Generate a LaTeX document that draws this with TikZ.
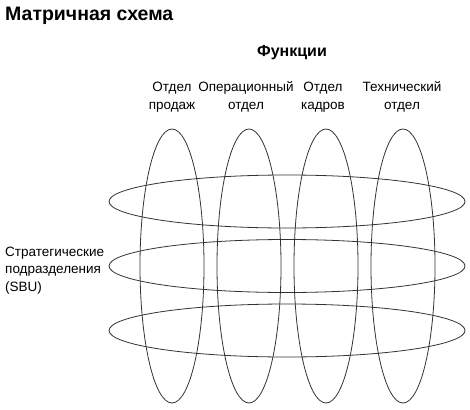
\documentclass[tikz,border=0pt]{standalone}
\usepackage{fontspec}
\setmainfont{Liberation Sans}

\begin{document}
\begin{tikzpicture}[x=1pt,y=-1pt,
    oval/.style={draw=black!80,line width=0.8pt},
    dept/.style={font=\fontsize{13.5}{18}\selectfont,align=center,inner sep=0pt,anchor=base}]
          \useasboundingbox (0,0) rectangle (470,409);

          \node[anchor=base west,inner sep=0pt,font=\fontsize{19.5}{22}\selectfont\bfseries]
                     (title) at (5,21) {Матричная схема};
          \node[anchor=base,inner sep=0pt,font=\fontsize{16}{19}\selectfont\bfseries]
                     (func) at (292,57) {Функции};

          \coordinate (f1) at (172,266);
          \coordinate (f2) at (249,266);
          \coordinate (f3) at (326,266);
          \coordinate (f4) at (403,266);

          % base of a two-line node is its last line
          \node[dept] (sales) at (172,110) {Отдел\\продаж};
          \node[dept] (oper) at (246,110) {Операционный\\отдел};
          \node[dept] (hr) at (323,110) {Отдел\\кадров};
          \node[dept] (tech) at (402,110) {Технический\\отдел};

          \node[anchor=base west,inner sep=0pt,align=left,font=\fontsize{13.5}{17.5}\selectfont]
                     (sbu) at (5,291) {Стратегические\\подразделения\\(SBU)};

          \draw[oval] (f1) ellipse [x radius=32,y radius=137];
          \draw[oval] (f2) ellipse [x radius=32,y radius=137];
          \draw[oval] (f3) ellipse [x radius=32,y radius=137];
          \draw[oval] (f4) ellipse [x radius=32,y radius=137];

          \coordinate (s1) at (287,201.5);
          \coordinate (s2) at (287,266);
          \coordinate (s3) at (287,330.5);

          \draw[oval] (s1) ellipse [x radius=178,y radius=26.5];
          \draw[oval] (s2) ellipse [x radius=178,y radius=26.5];
          \draw[oval] (s3) ellipse [x radius=178,y radius=26.5];
        \end{tikzpicture}
\end{document}
